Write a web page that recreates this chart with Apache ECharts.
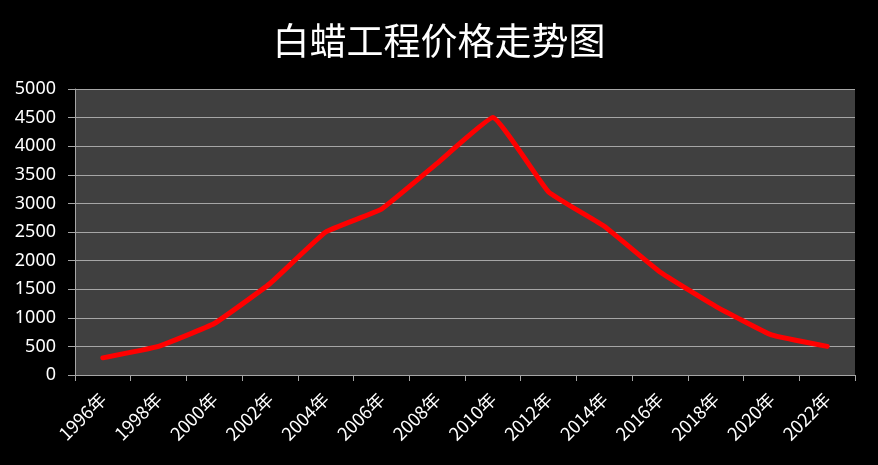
<!DOCTYPE html>
<html><head><meta charset="utf-8">
<script src="https://cdn.jsdelivr.net/npm/echarts@6/dist/echarts.min.js"></script>
<style>html,body{margin:0;padding:0;background:#000}#c{width:878px;height:465px}</style>
</head><body><div id="c"></div>
<script>
const years = ['1996年','1998年','2000年','2002年','2004年','2006年','2008年','2010年','2012年','2014年','2016年','2018年','2020年','2022年'];
const prices = [300,500,900,1600,2500,2900,3700,4500,3200,2600,1800,1200,700,500];
const chart = echarts.init(document.getElementById('c'));
chart.setOption({
  backgroundColor:'#000',
  animation:false,
  title:{text:'白蜡工程价格走势图',left:'center',top:17,textStyle:{color:'#fff',fontSize:37,fontWeight:'normal',fontFamily:'Noto Sans CJK SC'}},
  grid:{left:75,right:23,top:89,bottom:90,show:true,backgroundColor:'#404040',borderWidth:0},
  xAxis:{type:'category',data:years,boundaryGap:true,
    axisLine:{lineStyle:{color:'#a6a6a6',width:1}},
    axisTick:{show:true,length:6,lineStyle:{color:'#a6a6a6'}},
    axisLabel:{color:'#fff',fontSize:18,rotate:45,margin:21,fontFamily:'Noto Sans CJK SC'},
    splitLine:{show:false}},
  yAxis:{type:'value',min:0,max:5000,interval:500,
    axisLine:{show:true,lineStyle:{color:'#a6a6a6'}},
    axisTick:{show:true,length:7,lineStyle:{color:'#a6a6a6'}},
    axisLabel:{color:'#fff',fontSize:18,margin:19,fontFamily:'Noto Sans',formatter:v=>String(v)},
    splitLine:{show:true,lineStyle:{color:'#a6a6a6',width:1}}},
  series:[{type:'line',data:prices,showSymbol:false,smooth:0.1,
    lineStyle:{color:'#ff0000',width:5,join:'round',cap:'round'}}]
});
</script></body></html>
